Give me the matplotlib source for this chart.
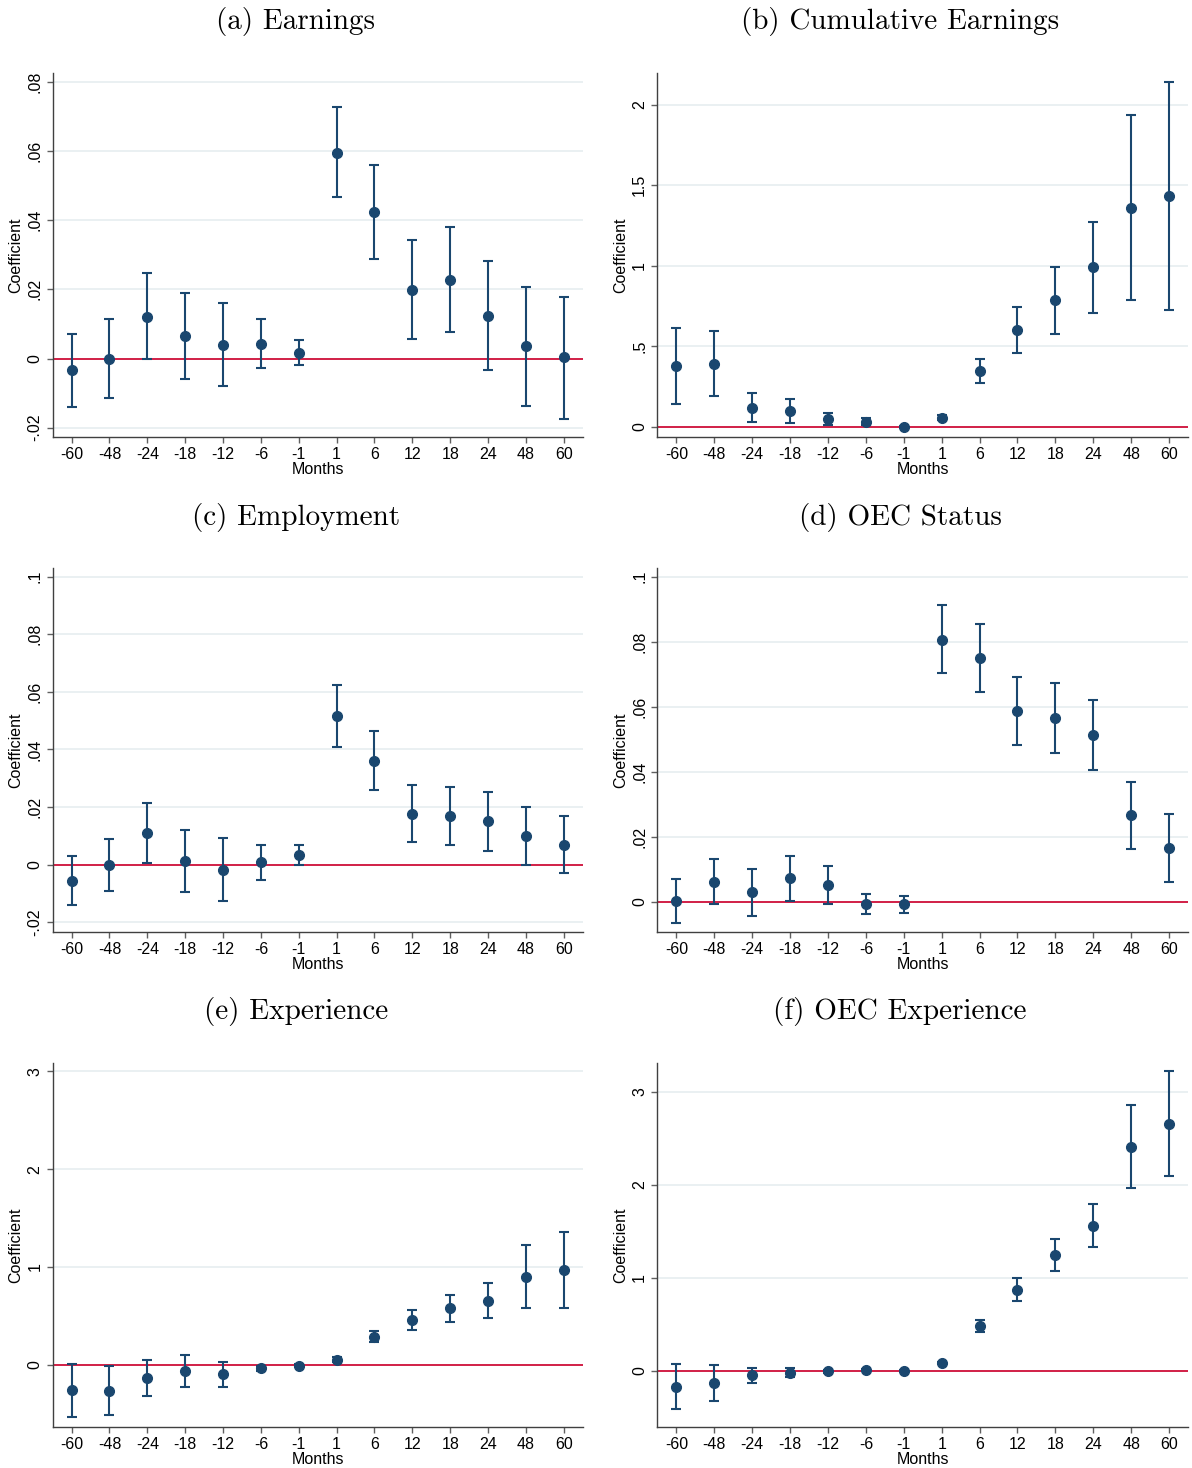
import matplotlib
matplotlib.use("Agg")
import matplotlib.pyplot as plt
from matplotlib.ticker import FixedLocator, FuncFormatter
import numpy as np

plt.rcParams["font.family"] = ["Liberation Sans", "DejaVu Sans"]

months = ["-60", "-48", "-24", "-18", "-12", "-6", "-1", "1", "6", "12", "18", "24", "48", "60"]

# (a) Earnings
earn_b = [-0.0034, 0.0000, 0.0120, 0.0065, 0.0040, 0.0041, 0.0017, 0.0596, 0.0423, 0.0199, 0.0227, 0.0123, 0.0036, 0.0003]
earn_lo = [-0.0140, -0.0113, -0.0002, -0.0058, -0.0079, -0.0028, -0.0019, 0.0466, 0.0288, 0.0057, 0.0077, -0.0034, -0.0136, -0.0174]
earn_hi = [0.0072, 0.0115, 0.0246, 0.0189, 0.0161, 0.0113, 0.0055, 0.0728, 0.0560, 0.0342, 0.0381, 0.0281, 0.0208, 0.0179]

# (b) Cumulative earnings
cum_b = [0.376, 0.393, 0.120, 0.099, 0.050, 0.033, 0.000, 0.058, 0.347, 0.602, 0.786, 0.991, 1.359, 1.431]
cum_lo = [0.141, 0.190, 0.033, 0.027, 0.012, 0.012, -0.004, 0.041, 0.275, 0.459, 0.577, 0.709, 0.788, 0.724]
cum_hi = [0.612, 0.598, 0.211, 0.172, 0.089, 0.054, 0.004, 0.072, 0.422, 0.745, 0.993, 1.272, 1.934, 2.141]

# (c) Employment
emp_b = [-0.0056, -0.0002, 0.0110, 0.0013, -0.0019, 0.0008, 0.0034, 0.0516, 0.0361, 0.0177, 0.0168, 0.0150, 0.0101, 0.0069]
emp_lo = [-0.0140, -0.0093, 0.0005, -0.0095, -0.0127, -0.0053, 0.0000, 0.0409, 0.0260, 0.0079, 0.0067, 0.0049, 0.0000, -0.0030]
emp_hi = [0.0030, 0.0089, 0.0215, 0.0119, 0.0091, 0.0069, 0.0068, 0.0625, 0.0463, 0.0277, 0.0270, 0.0251, 0.0201, 0.0169]

# (d) OEC status
oec_b = [0.0003, 0.0062, 0.0029, 0.0072, 0.0051, -0.0007, -0.0008, 0.0807, 0.0750, 0.0587, 0.0564, 0.0513, 0.0266, 0.0164]
oec_lo = [-0.0064, -0.0008, -0.0043, 0.0003, -0.0006, -0.0038, -0.0034, 0.0703, 0.0645, 0.0481, 0.0457, 0.0406, 0.0161, 0.0061]
oec_hi = [0.0070, 0.0131, 0.0101, 0.0141, 0.0110, 0.0025, 0.0017, 0.0912, 0.0855, 0.0692, 0.0672, 0.0621, 0.0370, 0.0269]

# (e) Experience
exp_b = [-0.263, -0.269, -0.136, -0.065, -0.099, -0.038, -0.010, 0.051, 0.286, 0.457, 0.580, 0.655, 0.900, 0.965]
exp_lo = [-0.535, -0.518, -0.324, -0.228, -0.228, -0.061, -0.027, 0.024, 0.228, 0.358, 0.436, 0.477, 0.576, 0.576]
exp_hi = [0.007, -0.017, 0.051, 0.099, 0.027, -0.014, 0.004, 0.075, 0.341, 0.556, 0.716, 0.832, 1.227, 1.360]

# (f) OEC experience
oexp_b = [-0.172, -0.136, -0.050, -0.025, -0.007, 0.004, 0.000, 0.083, 0.481, 0.872, 1.249, 1.561, 2.408, 2.659]
oexp_lo = [-0.416, -0.327, -0.129, -0.072, -0.025, -0.007, -0.011, 0.068, 0.420, 0.753, 1.073, 1.335, 1.966, 2.095]
oexp_hi = [0.072, 0.061, 0.029, 0.025, 0.011, 0.015, 0.011, 0.097, 0.549, 0.994, 1.421, 1.790, 2.863, 3.226]

NAVY = "#1a476f"
RED = "#d0103a"
GRID = "#e6eef0"

W, H = 1192, 1468
fig = plt.figure(figsize=(W / 100, H / 100), dpi=100)


def stata_fmt(v, pos=None):
    s = f"{v:g}"
    if s.startswith("0."):
        s = s[1:]
    elif s.startswith("-0."):
        s = "-" + s[2:]
    return s


def panel(rect_px, title, title_x, b, lo, hi, yticks, ylim):
    l, r, t, btm = rect_px
    ax = fig.add_axes([l / W, 1 - btm / H, (r - l) / W, (btm - t) / H])
    x = np.arange(len(months))
    b, lo, hi = np.array(b), np.array(lo), np.array(hi)
    for yt in yticks:
        ax.axhline(yt, color=GRID, lw=1.2, zorder=0)
    ax.axhline(0, color=RED, lw=1.3, zorder=1)
    ax.errorbar(x, b, yerr=[b - lo, hi - b], fmt="o", color=NAVY, ecolor=NAVY,
                ms=7, elinewidth=1.5, capsize=3.3, capthick=1.5, zorder=3)
    ax.set_xlim(-0.5, 13.5)
    ax.set_ylim(*ylim)
    ax.set_xticks(x)
    ax.set_xticklabels(months)
    ax.yaxis.set_major_locator(FixedLocator(yticks))
    ax.yaxis.set_major_formatter(FuncFormatter(stata_fmt))
    for side in ("top", "right"):
        ax.spines[side].set_visible(False)
    for side in ("left", "bottom"):
        ax.spines[side].set_color("#404040")
        ax.spines[side].set_linewidth(1.0)
    ax.tick_params(axis="both", direction="out", length=4.5, width=1.0,
                   color="#606060", labelsize=11.5, pad=3)
    ax.tick_params(axis="y", labelrotation=90)
    for lab in ax.get_yticklabels():
        lab.set_va("center")
    ax.set_xlabel("Months", fontsize=11.5, labelpad=0)
    ax.set_ylabel("Coefficient", fontsize=11.5, labelpad=3)
    fig.text(title_x / W, 1 - (t - 51) / H, title, family="cmr10", fontsize=21,
             ha="center", va="center")
    return ax


row_y = [(73, 437), (568, 932), (1063, 1427)]
left_x, right_x = (52.7, 582.7), (657.5, 1188)

panel((*left_x, *row_y[0]), "(a) Earnings", 296, earn_b, earn_lo, earn_hi,
      [-0.02, 0, 0.02, 0.04, 0.06, 0.08], (-0.0227, 0.0826))
panel((*right_x, *row_y[0]), "(b) Cumulative Earnings", 900, cum_b, cum_lo, cum_hi,
      [0, 0.5, 1, 1.5, 2], (-0.062, 2.196))
panel((*left_x, *row_y[1]), "(c) Employment", 296, emp_b, emp_lo, emp_hi,
      [-0.02, 0, 0.02, 0.04, 0.06, 0.08, 0.1], (-0.0234, 0.1030))
panel((*right_x, *row_y[1]), "(d) OEC Status", 900, oec_b, oec_lo, oec_hi,
      [0, 0.02, 0.04, 0.06, 0.08, 0.1], (-0.0093, 0.1027))
panel((*left_x, *row_y[2]), "(e) Experience", 296, exp_b, exp_lo, exp_hi,
      [0, 1, 2, 3], (-0.638, 3.086))
panel((*right_x, *row_y[2]), "(f) OEC Experience", 900, oexp_b, oexp_lo, oexp_hi,
      [0, 1, 2, 3], (-0.606, 3.312))

fig.savefig("out.png", dpi=100, facecolor="white")
